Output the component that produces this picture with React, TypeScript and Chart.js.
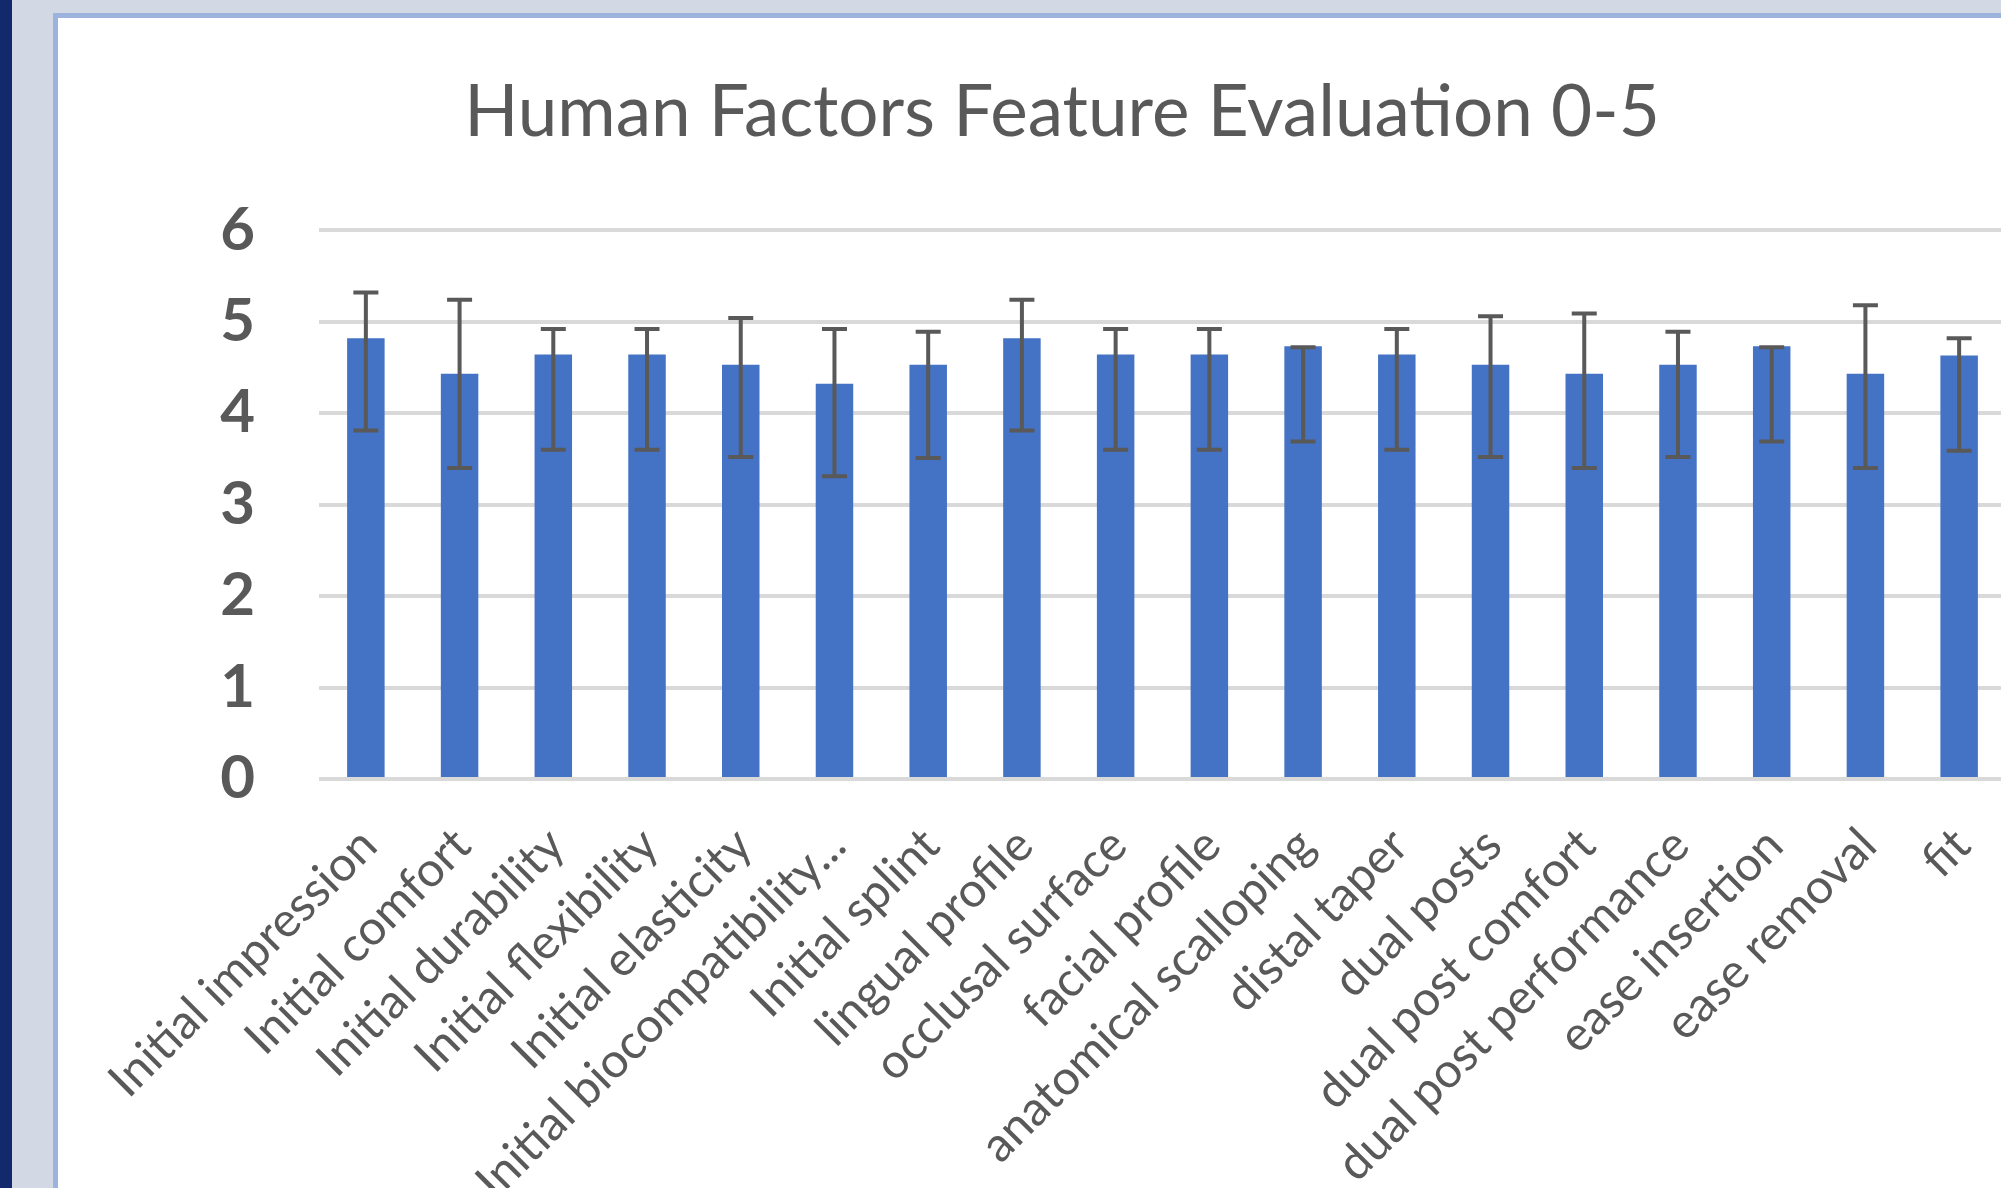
import React, { useEffect, useRef } from "react";
import { Chart, registerables } from "chart.js";

Chart.register(...registerables);

const chartTitle = "Human Factors Feature Evaluation 0-5";

const categories = [
  "Initial impression",
  "Initial comfort",
  "Initial durability",
  "Initial flexibility",
  "Initial elasticity",
  "Initial biocompatibility...",
  "Initial splint",
  "lingual profile",
  "occlusal surface",
  "facial profile",
  "anatomical scalloping",
  "distal taper",
  "dual posts",
  "dual post comfort",
  "dual post performance",
  "ease insertion",
  "ease removal",
  "fit",
];

const meanScores = [4.82, 4.43, 4.64, 4.64, 4.53, 4.32, 4.53, 4.82, 4.64, 4.64, 4.73, 4.64, 4.53, 4.43, 4.53, 4.73, 4.43, 4.63];

const errorTop = [5.32, 5.24, 4.92, 4.92, 5.04, 4.92, 4.89, 5.24, 4.92, 4.92, 4.72, 4.92, 5.06, 5.09, 4.89, 4.72, 5.18, 4.82];

const errorBottom = [3.81, 3.40, 3.60, 3.60, 3.52, 3.31, 3.51, 3.81, 3.60, 3.60, 3.69, 3.60, 3.52, 3.40, 3.52, 3.69, 3.40, 3.59];

const yMin = 0;
const yMax = 6;
const yStep = 1;

const errorBarPlugin = {
  id: "errorBars",
  afterDatasetsDraw(chart: any) {
    const meta = chart.getDatasetMeta(0);
    const yScale = chart.scales.y;
    const ctx = chart.ctx;
    ctx.save();
    ctx.strokeStyle = "#595959";
    ctx.lineWidth = 4;
    ctx.lineCap = "butt";
    meta.data.forEach((bar: any, i: number) => {
      const x = bar.x;
      const yT = yScale.getPixelForValue(errorTop[i]);
      const yB = yScale.getPixelForValue(errorBottom[i]);
      const half = 12.5;
      ctx.beginPath();
      ctx.moveTo(x, yT);
      ctx.lineTo(x, yB);
      ctx.moveTo(x - half, yT);
      ctx.lineTo(x + half, yT);
      ctx.moveTo(x - half, yB);
      ctx.lineTo(x + half, yB);
      ctx.stroke();
    });
    ctx.restore();
  },
};

function BarChart() {
  const ref = useRef<HTMLCanvasElement | null>(null);
  useEffect(() => {
    if (!ref.current) return;
    const chart = new Chart(ref.current, {
      type: "bar",
      data: {
        labels: categories,
        datasets: [
          {
            data: meanScores,
            backgroundColor: "#4472C4",
            borderWidth: 0,
            categoryPercentage: 1,
            barPercentage: 0.4,
            yAxisID: "y",
          },
        ],
      },
      options: {
        animation: false,
        responsive: false,
        maintainAspectRatio: false,
        devicePixelRatio: 1,
        layout: { padding: 0, autoPadding: false },
        plugins: {
          legend: { display: false },
          tooltip: { enabled: false },
          title: {
            display: true,
            text: chartTitle,
            color: "#595959",
            font: { family: "Lato", size: 71, weight: "normal", lineHeight: 1.2 },
            padding: { top: 53, bottom: 74 },
          },
        },
        scales: {
          x: {
            grid: { display: false, drawTicks: false },
            border: { display: false },
            ticks: {
              autoSkip: false,
              minRotation: 45,
              maxRotation: 45,
              padding: 38,
              labelOffset: 3,
              color: "#595959",
              font: { family: "Lato", size: 48, weight: "normal" },
            },
            afterFit: (scale: any) => {
              scale.height = 489;
            },
          },
          y: {
            min: yMin,
            max: yMax,
            grid: { color: "#d9d9d9", lineWidth: 4, drawTicks: false },
            border: { display: false },
            ticks: {
              stepSize: yStep,
              padding: 64,
              color: "#595959",
              font: { family: "Lato", size: 60, weight: "bold" },
            },
            afterFit: (scale: any) => {
              scale.width = 261;
            },
          },
          yRight: {
            type: "linear",
            position: "right",
            display: true,
            grid: { display: false, drawTicks: false },
            border: { display: false },
            ticks: { display: false },
            afterFit: (scale: any) => {
              scale.width = 60;
            },
          },
        },
      },
      plugins: [errorBarPlugin],
    });
    return () => chart.destroy();
  }, []);
  return <canvas ref={ref} width={2008} height={1250} style={{ display: "block" }} />;
}

export default function App() {
  return (
    <div
      style={{
        position: "fixed",
        left: 0,
        top: 0,
        width: 2001,
        height: 1188,
        overflow: "hidden",
        background: "#d3d9e4",
      }}
    >
      <div style={{ position: "absolute", left: 0, top: 0, width: 12, height: 1188, background: "#13296e" }} />
      <div
        style={{
          position: "absolute",
          left: 53,
          top: 13,
          width: 2100,
          height: 1300,
          background: "#ffffff",
          borderLeft: "5px solid #9bb3dd",
          borderTop: "5px solid #9bb3dd",
        }}
      />
      <div style={{ position: "absolute", left: 58, top: 18 }}>
        <BarChart />
      </div>
    </div>
  );
}
